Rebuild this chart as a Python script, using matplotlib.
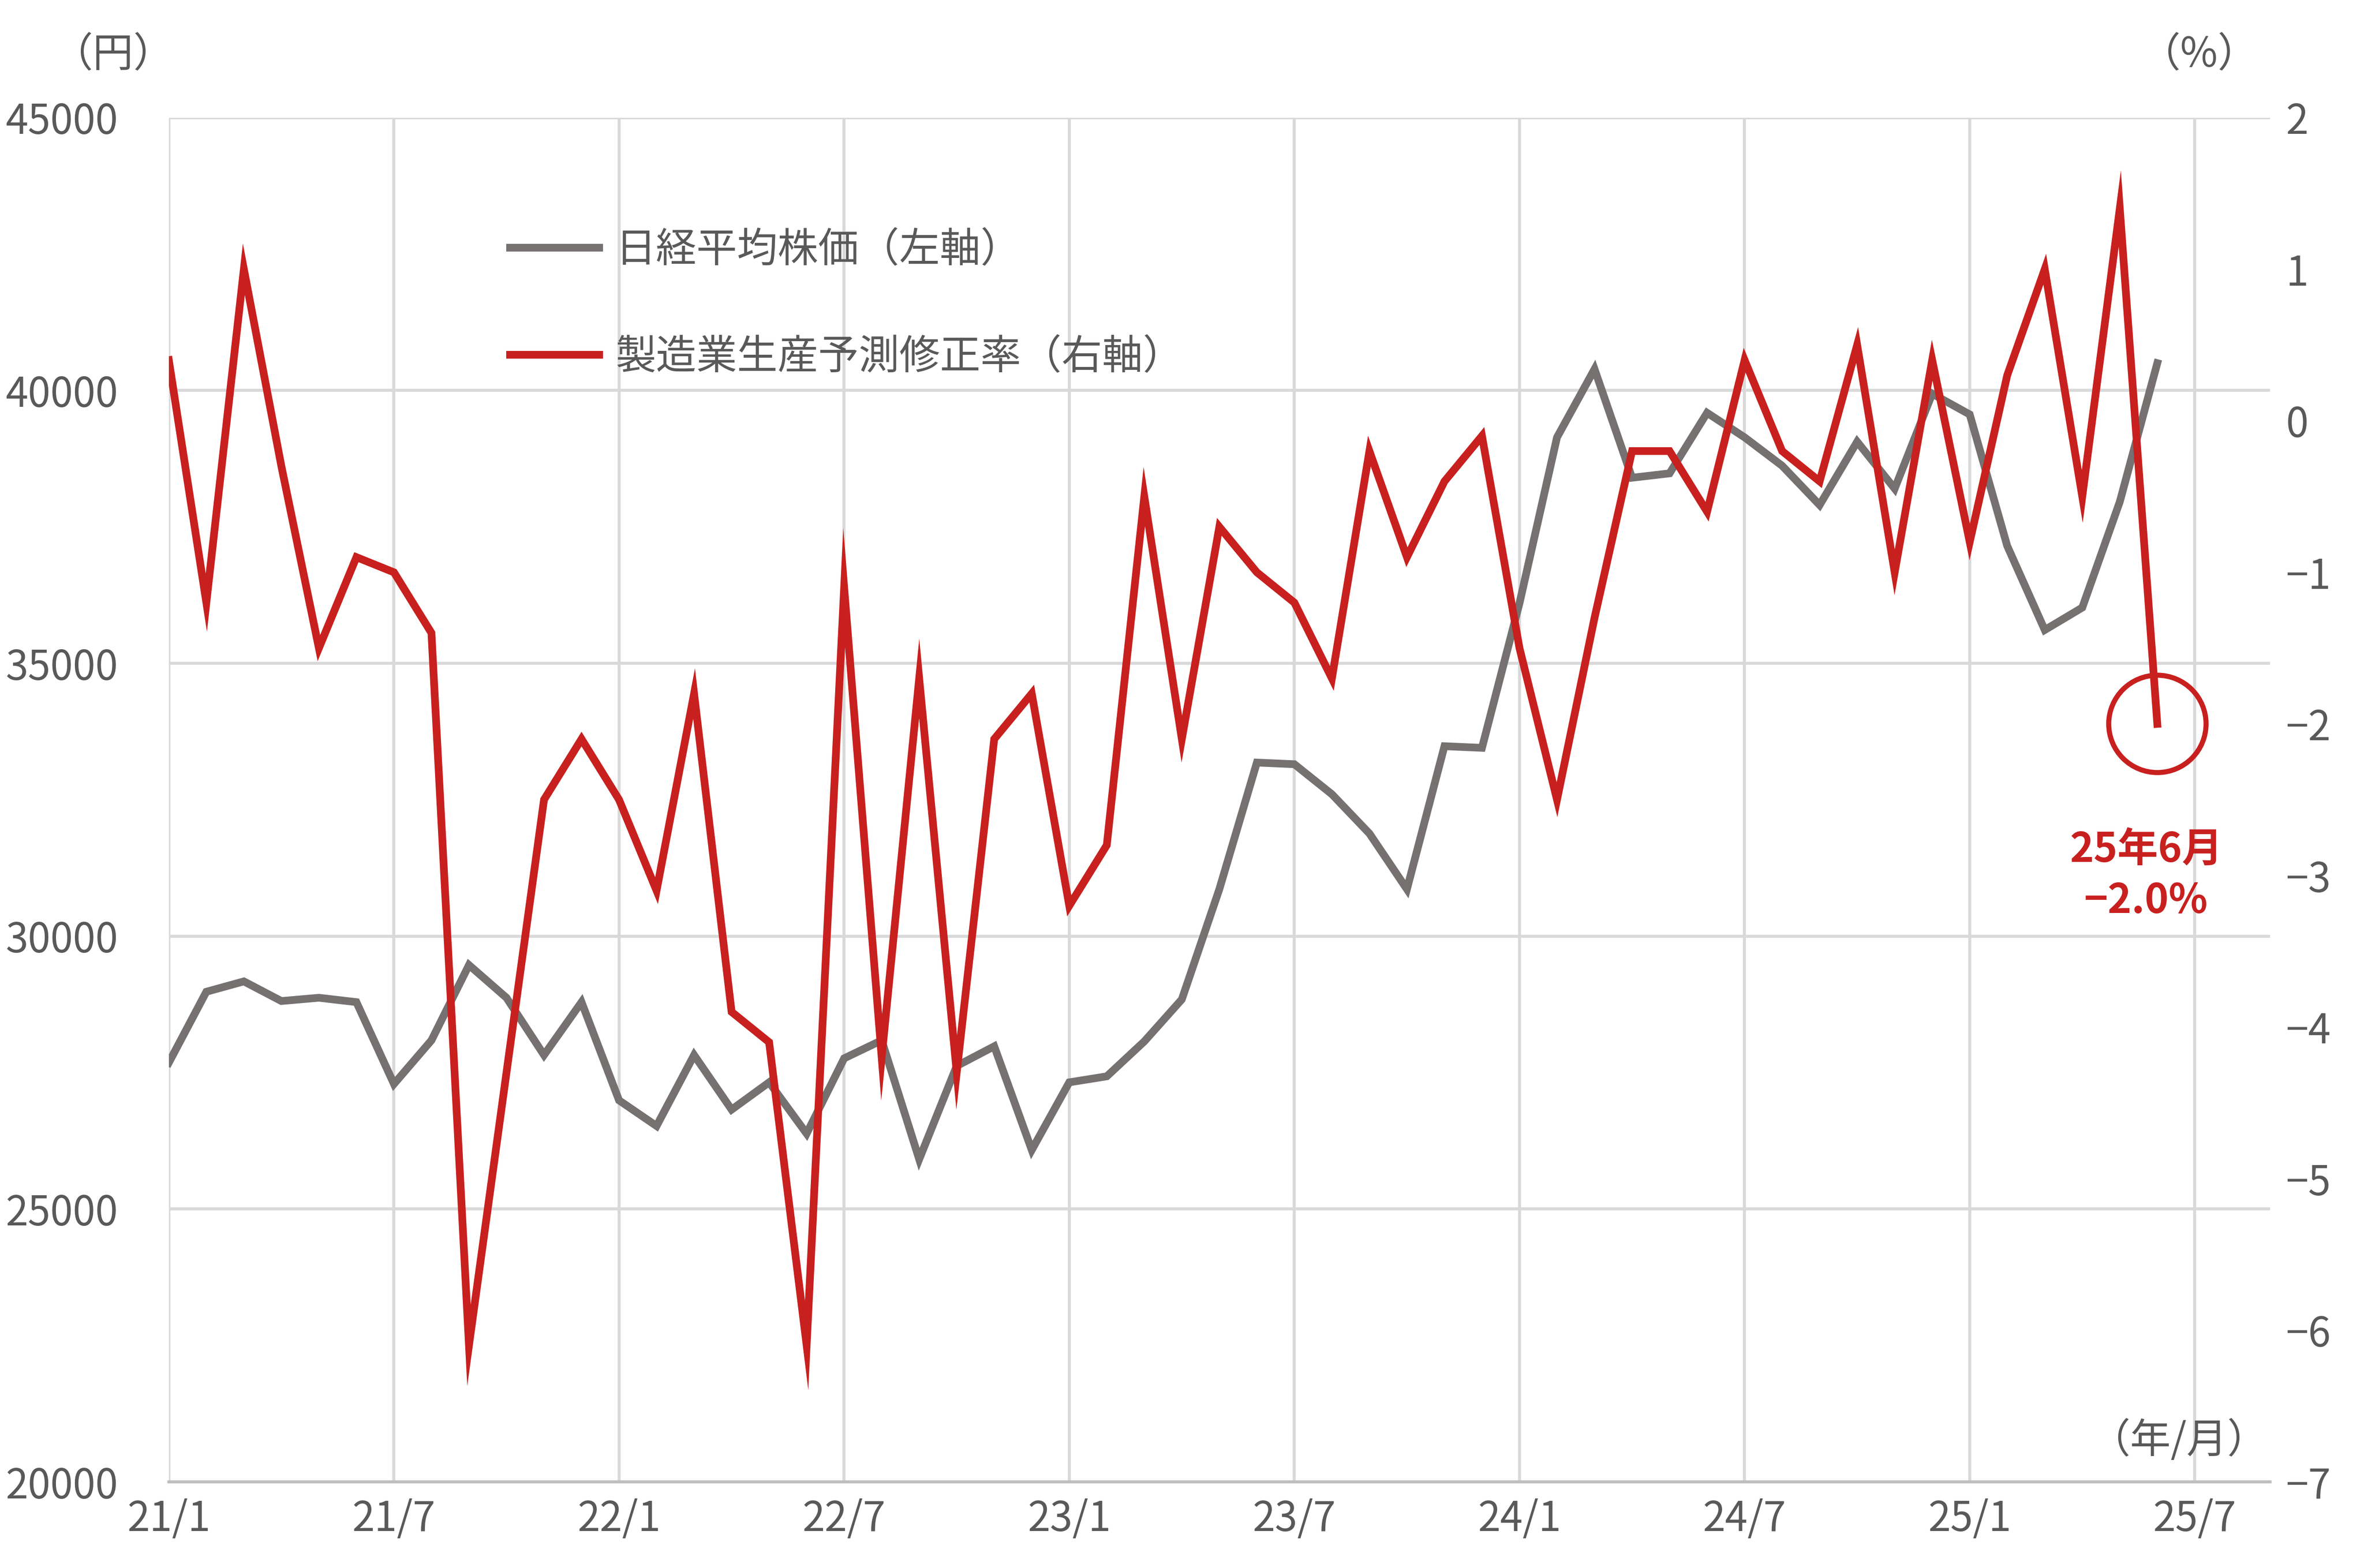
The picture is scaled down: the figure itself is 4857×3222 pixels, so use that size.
import matplotlib
matplotlib.use("Agg")
import matplotlib.pyplot as plt
from matplotlib.lines import Line2D

plt.rcParams['font.family'] = ['Noto Sans CJK JP', 'DejaVu Sans']

nikkei = [27680, 28980, 29170, 28810, 28870, 28790, 27290, 28090, 29470, 28870, 27820, 28790,
          26990, 26520, 27820, 26820, 27320, 26380, 27760, 28090, 25910, 27620, 27980, 26080,
          27320, 27430, 28070, 28840, 30860, 33180, 33150, 32600, 31880, 30860, 33480, 33450,
          36100, 39140, 40390, 38400, 38480, 39590, 39140, 38620, 37900, 39060, 38200, 39940,
          39560, 37150, 35610, 36020, 37960, 40500]
revision = [0.4, -1.2, 1.0, -0.3, -1.5, -0.9, -1.0, -1.4, -6.1, -4.3, -2.5, -2.1,
            -2.5, -3.1, -1.8, -3.9, -4.1, -6.1, -1.1, -4.2, -1.7, -4.3, -2.1, -1.8,
            -3.2, -2.8, -0.5, -2.1, -0.7, -1.0, -1.2, -1.7, -0.2, -0.9, -0.4, -0.1,
            -1.5, -2.5, -1.3, -0.2, -0.2, -0.6, 0.4, -0.2, -0.4, 0.5, -1.0, 0.4,
            -0.8, 0.3, 1.0, -0.5, 1.4, -2.0]
tick_labels = ['21/1', '21/7', '22/1', '22/7', '23/1', '23/7', '24/1', '24/7', '25/1', '25/7']
left_ticks = [20000, 25000, 30000, 35000, 40000, 45000]
right_ticks = [2, 1, 0, -1, -2, -3, -4, -5, -6, -7]

gray = '#767171'
red = '#C8201E'
tc = '#595959'

fig = plt.figure(figsize=(16.193, 10.74), dpi=300)
ax = fig.add_axes([0.0714, 0.055, 0.8886, 0.87])
ax2 = ax.twinx()
x = list(range(len(nikkei)))

ax.set_xlim(0, 56)
ax.set_ylim(20000, 45000)
ax2.set_ylim(-7, 2)
ax.set_xticks(range(0, 55, 6))
ax.set_xticklabels(tick_labels)
ax.set_yticks(left_ticks)
ax2.set_yticks(right_ticks)
ax.grid(True, color='#D9D9D9', lw=1.5)
ax.set_axisbelow(True)
for a in (ax, ax2):
    for s in a.spines.values():
        s.set_visible(False)
    a.tick_params(length=0, labelsize=20, colors=tc, pad=8)
ax.spines['bottom'].set_visible(True)
ax.spines['bottom'].set_color('#BFBFBF')
ax.spines['bottom'].set_linewidth(1.5)
ax.tick_params(axis='y', pad=25)

ax.plot(x, nikkei, color=gray, lw=3.8, solid_joinstyle='miter')
ax2.plot(x, revision, color=red, lw=3.8, solid_joinstyle='miter')
ax2.plot([53], [-2.0], 'o', ms=48, mfc='none', mec=red, mew=2.5)
ax2.text(52.7, -3.0, '25年6月\n−2.0%', color=red, fontsize=20, fontweight='bold',
         ha='center', va='center', linespacing=1.3)

fig.text(0.022, 0.965, '（円）', fontsize=20, color=tc, va='center')
fig.text(0.955, 0.965, '（%）', fontsize=20, color=tc, va='center', ha='right')
ax.text(0.999, 0.03, '（年/月）', transform=ax.transAxes, fontsize=20, color=tc, ha='right', va='center')

handles = [Line2D([], [], color=gray, lw=3.8), Line2D([], [], color=red, lw=3.8)]
ax.legend(handles, ['日経平均株価（左軸）', '製造業生産予測修正率（右軸）'],
          loc='upper left', bbox_to_anchor=(0.145, 0.945), frameon=False,
          fontsize=20, labelcolor=tc, labelspacing=1.6, handlelength=2.2, handletextpad=0.4)

fig.savefig('out.png', dpi=300)
